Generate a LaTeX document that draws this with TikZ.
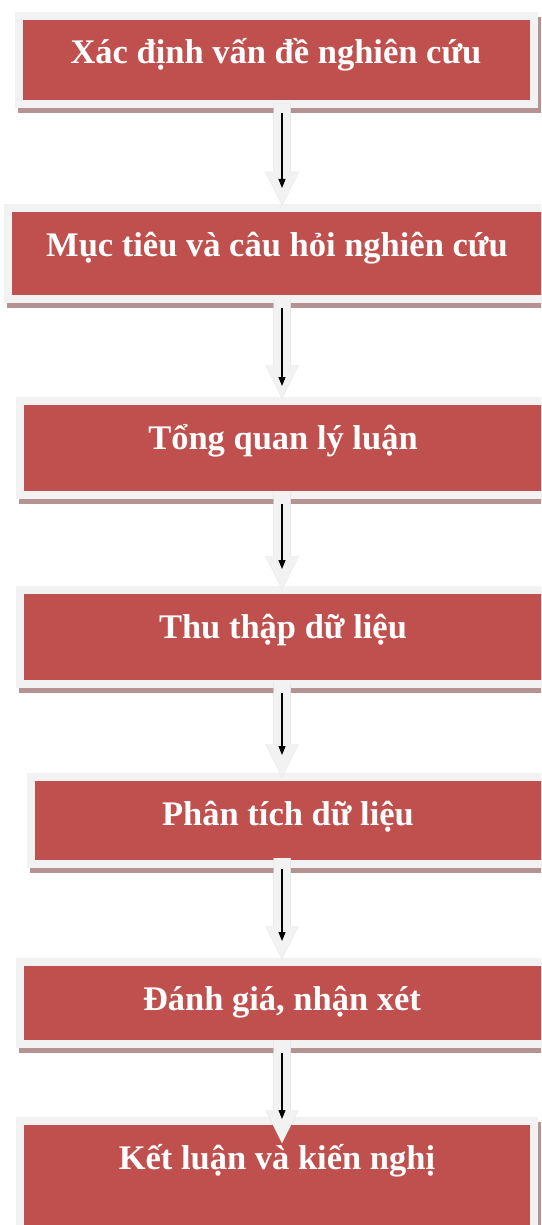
\documentclass[tikz,border=0pt]{standalone}
\usepackage{fontspec}
\setmainfont{Liberation Serif}
\usetikzlibrary{calc,arrows.meta,shadows}
\definecolor{boxred}{HTML}{C0504D}
\definecolor{framegray}{HTML}{F2F2F2}
\definecolor{boxshadow}{HTML}{B59392}
\definecolor{arrowshadow}{HTML}{C4C4C4}
\tikzset{
  stepbox/.style={fill=framegray, draw=none, inner sep=0pt, outer sep=0pt,
    drop shadow={shadow xshift=3pt, shadow yshift=-5pt, fill=boxshadow, opacity=1}},
  lbl/.style={text=white, font=\bfseries\fontsize{34.5}{40}\selectfont, inner sep=0pt, anchor=base},
  thinarrow/.style={draw=black, line width=1.2pt, -{Triangle[length=9pt,width=7pt]}}
}
\newcommand\arrpoly[2]{let \p1=(#1), \p2=(#2) in
  (\x1-8.5pt,\y1) -- (\x1+8.5pt,\y1) -- (\x1+8.5pt,\y2+33pt) -- (\x1+16.5pt,\y2+33pt)
  -- (\x1,\y2) -- (\x1-16.5pt,\y2+33pt) -- (\x1-8.5pt,\y2+33pt) -- cycle}
\newcommand\blockarr[2]{%
  \fill[arrowshadow, shift={(3.5,3)}] \arrpoly{#1}{#2};
  \fill[framegray] \arrpoly{#1}{#2};}
\newcommand\redin[1]{\fill[boxred] ($(#1.north west)+(8,8)$) rectangle ($(#1.south east)+(-8,-8)$);}
\begin{document}
\begin{tikzpicture}[x=1pt,y=-1pt]
\useasboundingbox (0,0) rectangle (541,1225);
\fill[white] (0,0) rectangle (541,1225);
\clip (0,0) rectangle (541,1225);
% boxes (frames)
\node[stepbox, minimum width=523pt, minimum height=96pt]  (b1) at (276.5,60) {};
\node[stepbox, minimum width=556pt, minimum height=99pt]  (b2) at (282,253.5) {};
\node[stepbox, minimum width=545pt, minimum height=102pt] (b3) at (288,448) {};
\node[stepbox, minimum width=545pt, minimum height=102pt] (b4) at (288,637) {};
\node[stepbox, minimum width=533pt, minimum height=95pt]  (b5) at (293.5,820.5) {};
\node[stepbox, minimum width=545pt, minimum height=90pt]  (b6) at (288,1003) {};
\node[stepbox, minimum width=522pt, minimum height=123pt] (b7) at (276.5,1178.5) {};
\redin{b1}\redin{b2}\redin{b3}\redin{b4}\redin{b5}\redin{b6}\redin{b7}
% labels
\node[lbl] (t1) at (276,64)   {Xác định vấn đề nghiên cứu};
\node[lbl] (t2) at (277,256)  {Mục tiêu và câu hỏi nghiên cứu};
\node[lbl] (t3) at (283,449)  {Tổng quan lý luận};
\node[lbl] (t4) at (283,638)  {Thu thập dữ liệu};
\node[lbl] (t5) at (288,825)  {Phân tích dữ liệu};
\node[lbl] (t6) at (282,1010) {Đánh giá, nhận xét};
\node[lbl] (t7) at (277,1169) {Kết luận và kiến nghị};
% arrow anchors
\coordinate (ax) at (282,0);
\coordinate (a1s) at ($(b1.south -| ax)+(0,-4)$);
\coordinate (a1t) at ($(b2.north -| ax)+(0,1)$);
\coordinate (a2s) at ($(b2.south -| ax)+(0,-4)$);
\coordinate (a2t) at ($(b3.north -| ax)+(0,1)$);
\coordinate (a3s) at ($(b3.south -| ax)+(0,-6)$);
\coordinate (a3t) at ($(b4.north -| ax)+(0,3)$);
\coordinate (a4s) at ($(b4.south -| ax)+(0,-6)$);
\coordinate (a4t) at ($(b5.north -| ax)+(0,4)$);
\coordinate (a5s) at ($(b5.south -| ax)+(0,-10)$);
\coordinate (a5t) at ($(b6.north -| ax)+(0,1)$);
\coordinate (a6s) at ($(b6.south -| ax)+(0,-8)$);
\coordinate (a6t) at ($(b7.north -| ax)+(0,26)$);
% block arrows
\blockarr{a1s}{a1t}
\blockarr{a2s}{a2t}
\blockarr{a3s}{a3t}
\blockarr{a4s}{a4t}
\blockarr{a5s}{a5t}
\blockarr{a6s}{a6t}
% thin black arrows
\draw[thinarrow] ($(a1s)+(0,9)$) -- ($(a1t)+(0,-17)$);
\draw[thinarrow] ($(a2s)+(0,9)$) -- ($(a2t)+(0,-12)$);
\draw[thinarrow] ($(a3s)+(0,11)$) -- ($(a3t)+(0,-20)$);
\draw[thinarrow] ($(a4s)+(0,11)$) -- ($(a4t)+(0,-22)$);
\draw[thinarrow] ($(a5s)+(0,11)$) -- ($(a5t)+(0,-18)$);
\draw[thinarrow] ($(a6s)+(0,13)$) -- ($(a6t)+(0,-24)$);
\end{tikzpicture}
\end{document}
